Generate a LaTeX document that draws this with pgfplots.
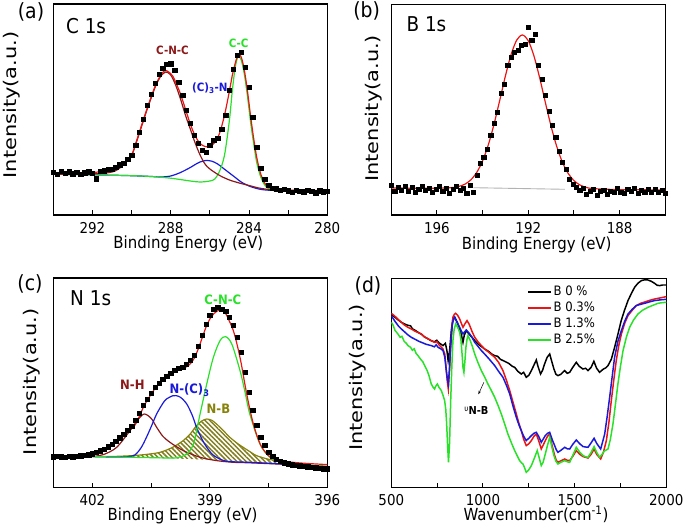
\documentclass[border=0pt]{standalone}
\usepackage{fontspec}
\setmainfont{DejaVu Sans}[FakeStretch=0.9]
\newfontfamily\ylfont{DejaVu Sans}[FakeStretch=1.2]
\usepackage{pgfplots}
\pgfplotsset{compat=1.18}
\usetikzlibrary{patterns.meta,arrows.meta}
\definecolor{cred}{RGB}{235,20,20}
\definecolor{cdred}{RGB}{140,25,25}
\definecolor{cgreen}{RGB}{40,225,40}
\definecolor{cblue}{RGB}{25,25,220}
\definecolor{colive}{RGB}{135,130,10}
\definecolor{chatch}{RGB}{130,125,30}
\newcommand{\tickfont}{\fontsize{15}{18}\selectfont}
\newcommand{\labfont}{\fontsize{16.7}{20}\selectfont}
\newcommand{\ylabfont}{\ylfont\fontsize{17.5}{20}\selectfont}
\pgfplotsset{
  panel/.style={scale only axis, width=274bp, ymin=0, ytick=\empty,
    tick align=inside, xtick pos=left, major tick length=4.5bp, minor tick length=4.5bp,
    tick style={line width=1pt, black},
    axis line style={line width=1.3pt},
    xticklabel style={font=\tickfont, anchor=base, inner sep=0pt, yshift=-18.5bp},
    every axis plot/.append style={line width=1.2pt}},
  dat/.style={only marks, mark=square*, mark size=2.25pt, black, line width=0.4pt},
}
\begin{document}
\begin{tikzpicture}

% ---------------- (a) C 1s ----------------
\begin{axis}[panel, x dir=reverse, at={(53.3bp,313bp)}, anchor=south west,
  height=211bp, ymax=211, xmin=280, xmax=294,
  xtick={292,288,284,280}, xticklabels={292,288,284,280}, minor xtick={290,286,282}]
\addplot[dat] coordinates {(294.0,43) (293.8,41) (293.6,44) (293.4,42) (293.2,43.5) (293.0,41.5) (292.8,43) (292.6,41) (292.4,42.5) (292.2,43.5) (292.0,42) (291.8,36.5) (291.6,44) (291.4,44.5) (291.2,46) (291.0,46) (290.8,48) (290.6,50.5) (290.4,52) (290.2,56) (290.0,60) (289.8,70) (289.6,83) (289.4,96) (289.2,110) (289.0,121) (288.8,132) (288.6,141) (288.4,147) (288.2,151) (288.0,151.5) (287.8,145) (287.6,133) (287.4,120) (287.2,105) (287.0,92) (286.8,80) (286.6,72) (286.4,65) (286.2,63) (286.0,70) (285.8,75) (285.6,77) (285.4,86) (285.2,100) (285.0,125) (284.8,146) (284.6,160) (284.4,163) (284.2,148) (284.0,128) (283.8,98) (283.6,68) (283.4,47) (283.2,36) (283.0,30) (282.8,27) (282.6,26.5) (282.4,25) (282.2,26) (282.0,24.5) (281.8,23) (281.6,25) (281.4,24) (281.2,23.5) (281.0,25) (280.8,24) (280.6,22.5) (280.4,24.5) (280.2,23.5) (280.0,24)};
\addplot[cblue, smooth] coordinates {(294,40.7) (293,40.5) (292,40.2) (291,39.8) (290,39.3) (289,38.5) (288.5,38) (288,39) (287.5,42.5) (287,47.5) (286.75,50.5) (286.5,53) (286.2,54.5) (285.9,53.8) (285.6,51) (285.3,46.5) (285,42) (284.7,37.5) (284.4,33) (284,29) (283.5,26) (283,24.8) (282,24.3) (280,24.3)};
\addplot[cgreen, smooth] coordinates {(294,40.7) (292,40.2) (290,39.3) (289,38.5) (288,36.8) (287,34) (286.5,33) (286,34) (285.75,36) (285.5,44) (285.25,60) (285,95) (284.85,125) (284.7,148) (284.55,159) (284.4,155) (284.25,142) (284.1,122) (283.9,90) (283.75,70) (283.6,52) (283.4,38) (283.2,30) (283,26.5) (282.5,24.8) (282,24.4) (280,24.3)};
\addplot[cdred, smooth] coordinates {(294,40.7) (293,40.8) (292,41) (291,43) (290.5,48.5) (290,60) (289.75,73) (289.5,88) (289.25,103) (289,117) (288.75,130) (288.5,139) (288.25,143) (288,140) (287.75,130) (287.5,116) (287.25,100) (287,86) (286.75,72) (286.5,60) (286.25,51) (286,46) (285.5,39.5) (285,35) (284.5,32) (284,29.5) (283.5,27) (283,25.5) (282.5,24.8) (282,24.5) (281,24.3) (280,24.3)};
\addplot[cred, smooth] coordinates {(294,41.5) (293,42) (292,42.5) (291.5,43.5) (291,45) (290.5,49.5) (290,60) (289.75,74) (289.5,89) (289.25,104) (289,118) (288.75,131) (288.5,140) (288.3,144.5) (288.1,143) (287.9,139) (287.75,133) (287.5,121) (287.25,106) (287,91) (286.75,79) (286.5,71.5) (286.25,68.5) (286,68.5) (285.75,72.5) (285.5,82) (285.25,100) (285,124) (284.85,140) (284.7,152) (284.55,161) (284.4,158) (284.25,146) (284.1,127) (283.9,96) (283.75,75) (283.6,57) (283.4,41) (283.2,32) (283,28) (282.5,25.5) (282,24.8) (281,24.5) (280,24.3)};
\node[anchor=base west, font=\fontsize{20.5}{24}\selectfont] at (axis description cs:0.034,0.861) {C 1s};
\node[cdred, font=\bfseries\fontsize{11.5}{14}\selectfont] at (axis cs:287.91,164.3) {C-N-C};
\node[cgreen, font=\bfseries\fontsize{11.5}{14}\selectfont] at (axis cs:284.53,171.7) {C-C};
\node[cblue, font=\bfseries\fontsize{11.5}{14}\selectfont] at (axis cs:286.0,126.5) {(C)\textsubscript{3}-N};
\end{axis}

% ---------------- (b) B 1s ----------------
\begin{axis}[panel, x dir=reverse, at={(391.3bp,313bp)}, anchor=south west,
  height=210.5bp, ymax=210.5, xmin=186, xmax=198,
  xtick={196,192,188}, xticklabels={196,192,188}, minor xtick={194,190}]
\addplot[dat, mark size=2.1pt] coordinates {(198.00,30) (197.85,23.5) (197.70,28) (197.55,25) (197.40,29) (197.25,24) (197.10,27.5) (196.95,23) (196.80,26) (196.65,29) (196.50,24.5) (196.35,27) (196.20,22.5) (196.05,26) (195.90,28.5) (195.75,24) (195.60,27) (195.45,22) (195.30,25.5) (195.15,29) (195.00,24.5) (194.85,27) (194.70,22) (194.55,30) (194.40,23) (194.25,40) (194.10,52) (193.95,58) (193.80,66) (193.65,80) (193.50,92) (193.35,103) (193.20,122) (193.05,131) (192.90,150) (192.75,158) (192.60,163) (192.45,165) (192.30,170) (192.15,171) (192.00,188) (191.85,175) (191.70,181) (191.55,150) (191.40,136) (191.25,120) (191.10,104) (190.95,90) (190.80,78) (190.65,64) (190.50,53) (190.35,46) (190.20,36) (190.05,31) (189.90,28) (189.75,25) (189.60,27) (189.45,21) (189.30,24) (189.15,26) (189.00,20) (188.85,23.5) (188.70,25) (188.55,21) (188.40,24) (188.25,22.5) (188.10,26.5) (187.95,23) (187.80,21.5) (187.65,26) (187.50,24) (187.35,27) (187.20,22) (187.05,25) (186.90,23) (186.75,26) (186.60,22.5) (186.45,25.5) (186.30,23) (186.15,25) (186.00,22)};
\addplot[black!30, line width=0.9pt] coordinates {(194.4,27.3) (190.4,25.7)};
\addplot[cred, smooth] coordinates {(198,27) (197,26.8) (196.5,26.8) (195.76,26.9) (195.26,27.6) (195.01,28.8) (194.76,31) (194.51,35.3) (194.26,42.5) (194.01,53.7) (193.76,69.5) (193.51,90) (193.26,113.8) (193.01,138.3) (192.76,160) (192.51,174.8) (192.26,180) (192.01,174.6) (191.76,159.6) (191.51,137.9) (191.26,113.2) (191.01,89.4) (190.76,68.9) (190.51,53) (190.26,41.8) (190.01,34.6) (189.76,30.3) (189.51,27.9) (189.26,26.6) (188.76,25.9) (188,25.4) (187,25.2) (186,25)};
\node[anchor=base west, font=\fontsize{20.5}{24}\selectfont] at (axis description cs:0.043,0.871) {B 1s};
\end{axis}

% ---------------- (c) N 1s ----------------
\begin{axis}[panel, x dir=reverse, at={(53.3bp,40.7bp)}, anchor=south west,
  height=209.3bp, ymax=209.3, xmin=396, xmax=403,
  xtick={402,399,396}, xticklabels={402,399,396}, minor xtick={400.5,397.5}]
\addplot[dat] coordinates {(403.0,30.5) (402.9,31) (402.8,30.5) (402.7,30) (402.6,31) (402.5,30.5) (402.4,31) (402.3,31.5) (402.2,32) (402.1,32.5) (402.0,33.5) (401.9,35) (401.8,36.5) (401.7,38) (401.6,40.5) (401.5,43) (401.4,46) (401.3,49.5) (401.2,53) (401.1,57) (401.0,61) (400.9,67) (400.8,74) (400.7,82) (400.6,88) (400.5,94) (400.4,100) (400.3,104) (400.2,108) (400.1,111) (400.0,114) (399.9,117) (399.8,119) (399.7,120) (399.6,123) (399.5,127) (399.4,132) (399.3,141) (399.2,152) (399.1,163) (399.0,172) (398.9,178) (398.8,180) (398.7,178) (398.6,176) (398.5,170) (398.4,162) (398.3,150) (398.2,135) (398.1,115) (398.0,95) (397.9,77) (397.8,62) (397.7,50) (397.6,42) (397.5,35) (397.4,31) (397.3,28) (397.2,26) (397.1,24.5) (397.0,23.5) (396.9,22.5) (396.8,22) (396.7,21.5) (396.6,21) (396.5,20.5) (396.4,20) (396.3,19.5) (396.2,19) (396.1,18.8) (396.0,18.5)};
\addplot[draw=none, pattern={Lines[angle=-45,distance=3.3bp,line width=1.5bp]}, pattern color=chatch] coordinates {(402,30.7) (401.5,30.8) (400.96,31.7) (400.6,33) (400.27,35) (399.95,40) (399.68,46.7) (399.5,53.5) (399.34,61.7) (399.2,66.5) (399.08,68.3) (398.95,67) (398.83,63.3) (398.65,56.5) (398.49,50) (398.3,44) (398.15,40) (397.95,35) (397.81,31.7) (397.5,28) (397.29,26.7) (396.95,23.3) (396.5,22) (396,20.7) (397,23) (398,25) (399,27.5) (400,29) (401,30) (402,30.7)} -- cycle;
\addplot[colive, smooth, line width=1.2pt] coordinates {(402,30.7) (401.5,30.8) (400.96,31.7) (400.6,33) (400.27,35) (399.95,40) (399.68,46.7) (399.5,53.5) (399.34,61.7) (399.2,66.5) (399.08,68.3) (398.95,67) (398.83,63.3) (398.65,56.5) (398.49,50) (398.3,44) (398.15,40) (397.95,35) (397.81,31.7) (397.5,28) (397.29,26.7) (396.95,23.3) (396.5,22) (396,20.7)};
\addplot[cdred, smooth] coordinates {(402,30.7) (401.7,33) (401.38,40) (401.04,56.7) (400.85,67) (400.68,73.3) (400.5,69) (400.36,60) (400.2,51) (400.02,45) (399.68,36.7) (399.25,30) (398.83,26.7) (398.4,25) (398,24.5) (397,22.8) (396,20.7)};
\addplot[cblue, smooth] coordinates {(402,30.7) (401.5,30.3) (401.1,30.5) (400.91,32.5) (400.75,40) (400.62,50) (400.5,60.5) (400.36,73.3) (400.2,84) (400.11,88.3) (399.95,91.5) (399.87,91.7) (399.75,90) (399.59,83.3) (399.45,72) (399.34,60) (399.2,48) (399.08,40) (398.95,33.5) (398.83,30) (398.57,26) (398,25) (397,23) (396,20.7)};
\addplot[cgreen, smooth] coordinates {(402,30.7) (401,30) (400,29.3) (399.8,30) (399.6,33) (399.42,43.3) (399.25,73.3) (399.08,103.3) (398.91,130) (398.74,146.7) (398.6,150.7) (398.44,143.3) (398.23,116.7) (398.1,95) (397.98,73.3) (397.72,43.3) (397.46,30) (397.12,25) (396.5,22.5) (396,20.7)};
\addplot[cred, smooth] coordinates {(402.0,33.3) (401.9,34.5) (401.8,36) (401.7,37.5) (401.6,39.5) (401.5,42) (401.4,44.5) (401.3,48) (401.2,51.5) (401.1,55) (401.0,58.5) (400.9,63) (400.8,71) (400.7,80) (400.6,87) (400.5,93) (400.4,99) (400.3,104) (400.2,108.5) (400.1,112) (400.0,115) (399.9,116.5) (399.8,117.5) (399.7,119) (399.6,120.5) (399.5,123.5) (399.4,129) (399.3,138) (399.2,149) (399.1,160) (399.0,168.3) (398.9,173.5) (398.8,176.5) (398.7,177.3) (398.6,174) (398.5,166) (398.4,156.7) (398.3,142) (398.2,124) (398.1,102) (398.0,82) (397.9,65) (397.8,52) (397.7,42) (397.6,36) (397.5,31.5) (397.4,29) (397.3,27.5) (397.2,26.6) (397.0,25.5) (396.8,24.7) (396.5,23.8) (396.0,22.7)};
\node[anchor=base west, font=\fontsize{20.5}{24}\selectfont] at (axis description cs:0.049,0.868) {N 1s};
\node[cgreen, font=\bfseries\fontsize{13}{15}\selectfont] at (axis cs:398.67,187.3) {C-N-C};
\node[cdred, font=\bfseries\fontsize{13}{15}\selectfont] at (axis cs:400.98,103) {N-H};
\node[cblue, font=\bfseries\fontsize{13}{15}\selectfont] at (axis cs:399.52,97) {N-(C)\textsubscript{3}};
\node[colive, font=\bfseries\fontsize{13}{15}\selectfont] at (axis cs:398.78,78.3) {N-B};
\end{axis}

% ---------------- (d) FTIR ----------------
\begin{axis}[panel, at={(391.3bp,40.7bp)}, anchor=south west,
  width=275bp, height=208.6bp, ymax=208.6, xmin=500, xmax=2000,
  xtick={500,1000,1500,2000}, xticklabels={500,1000,1500,2000}, minor xtick={750,1250,1750},
  every axis plot/.append style={line width=1.5pt},
  legend style={draw=none, fill=none, inner sep=0pt, at={(axis description cs:0.495,0.975)}, anchor=north west,
    font=\fontsize{13}{15}\selectfont, row sep=0pt,
    nodes={inner sep=1.5pt, text height=10bp, text depth=3bp}},
  legend cell align=left,
  legend image code/.code={\draw[#1, line width=1.5pt] (0bp,0bp) -- (23bp,0bp);}]
\addplot[black] coordinates {(500,173.3) (520,170) (540,167) (555,165) (570,163.5) (590,162) (605,161.5) (615,158.5) (630,157) (650,154.5) (665,153) (680,150.5) (700,148.5) (718,146.5) (735,145.5) (748,147) (760,144.5) (782,141.7) (795,144) (803,137) (810,126.7) (818,136.7) (828,158) (836,168.3) (846,170) (860,165) (873,158.3) (883,152) (891,145) (898,152) (909,156.7) (925,153) (940,150) (955,146.7) (975,143) (990,141) (1009,138.3) (1030,136) (1050,133) (1064,131.7) (1080,131) (1095,128) (1118,126) (1140,124) (1160,121) (1173,120) (1190,116) (1209,113.3) (1222,115) (1236,110) (1250,112) (1264,116.7) (1280,123) (1291,127.3) (1300,121) (1314,113.3) (1325,117) (1336,123.3) (1350,130) (1364,133.3) (1375,126) (1387,118.3) (1398,113) (1409,111.7) (1425,113) (1445,116.7) (1460,114) (1473,115) (1490,120) (1509,125) (1525,121) (1545,118.3) (1560,119) (1573,116.7) (1590,120) (1605,126) (1620,119) (1636,115) (1655,118) (1670,119.5) (1682,121.7) (1700,128) (1718,140) (1736,153) (1754,166.7) (1772,177) (1791,186.7) (1810,194) (1827,200) (1845,204) (1864,206.7) (1882,207.5) (1900,207.3) (1918,206) (1936,204) (1950,202) (1964,201.7) (1980,202.3) (2000,202.3)};
\addlegendentry{B 0 \%}
\addplot[cred] coordinates {(500,174) (520,171) (540,167.5) (555,165) (570,162.5) (590,160) (609,158.3) (630,156) (650,154.5) (664,153.3) (680,150.5) (700,148.5) (718,146.7) (735,145) (750,145.5) (760,142.5) (782,138.3) (792,133) (800,116.7) (806,105) (811,98.3) (817,115) (822,133.3) (829,155) (836,170) (844,173) (851,174) (862,172) (873,168.3) (883,163.5) (891,160) (900,163) (913,166.7) (925,163) (940,156) (955,150) (975,145) (990,142) (1009,138.3) (1035,134.5) (1064,130) (1085,125) (1109,116.7) (1128,107) (1146,96.7) (1164,85) (1182,73.3) (1196,64) (1209,56.7) (1222,48) (1236,41.7) (1250,43.5) (1264,46.7) (1278,51) (1291,53.3) (1305,46) (1318,38.3) (1328,42) (1340,46.7) (1352,51) (1364,53.3) (1377,42) (1391,31.7) (1400,27) (1409,25) (1425,26.5) (1446,28.3) (1460,27) (1473,26.7) (1490,31) (1509,36.7) (1528,33) (1546,30.7) (1560,30) (1573,29.3) (1590,33) (1606,38.3) (1620,33) (1642,28.3) (1657,35) (1673,46.7) (1687,65) (1700,86.7) (1714,108) (1727,126.7) (1741,142) (1755,153.3) (1773,164) (1791,171.7) (1814,177) (1836,181.7) (1860,184) (1882,185.3) (1910,187) (1936,188.3) (1970,189.5) (2000,190.7)};
\addlegendentry{B 0.3\%}
\addplot[cblue] coordinates {(500,171.7) (520,166) (540,161) (555,158.3) (575,155) (590,152.5) (609,150) (630,148) (650,146) (664,145) (690,143) (718,141.7) (735,140.5) (745,142.5) (755,140) (770,138.5) (782,136.7) (792,130) (800,116.7) (806,108) (811,103.3) (817,118) (822,136.7) (828,152) (833,163.3) (840,168) (846,170) (858,165) (873,160) (883,156) (891,153.3) (900,155.5) (909,157.3) (925,154) (940,150) (955,145) (975,140.5) (990,137) (1009,133.3) (1035,128) (1064,121.7) (1085,116) (1109,110) (1128,102) (1146,93.3) (1164,81) (1182,70) (1196,62.5) (1209,56.7) (1222,51) (1236,46.7) (1250,49) (1264,51.7) (1278,54) (1291,55) (1305,50.5) (1318,45) (1328,48) (1340,51.7) (1352,54) (1364,55) (1377,48) (1391,41.7) (1400,37.5) (1409,35) (1425,37) (1446,40) (1460,38.5) (1473,38.3) (1490,43) (1509,47.3) (1528,43.5) (1546,40.7) (1560,40.3) (1573,40) (1590,44.5) (1606,49) (1620,44) (1642,38.3) (1652,45) (1664,53.3) (1677,70) (1691,90) (1705,111) (1718,130) (1736,146) (1755,156.7) (1773,166) (1791,173.3) (1814,178) (1836,181.7) (1860,183) (1882,184) (1910,185.5) (1936,186.7) (1970,187.5) (2000,188)};
\addlegendentry{B 1.3\%}
\addplot[cgreen] coordinates {(500,165) (510,162) (520,157) (536,153.3) (548,150) (558,151) (570,146) (582,144) (591,141.7) (605,140) (615,137) (625,138.5) (635,134) (645.5,131.7) (660,128) (672,125.5) (682,121.7) (695,117) (705,112) (718,103.3) (728,100) (736,98.3) (742,101) (751,103.3) (760,100) (773,96.7) (782,92) (791,86.7) (797,78) (802,63.3) (807,42) (812,25) (818,45) (824,86.7) (830,120) (836,146.7) (843,158) (851,163.3) (862,160) (873,155) (880,147) (886,133.3) (891,120) (896,115) (901,125) (907,140) (913,148) (918,151.7) (930,147) (942,141) (955,133.3) (972,125) (991,116.7) (1010,110) (1027,103.3) (1045,97) (1064,90) (1082,82) (1100,73.3) (1118,63.5) (1136,53.3) (1155,44.5) (1173,36.7) (1188,31) (1200,26.7) (1210,24.5) (1218,23.3) (1226,20) (1236,15) (1248,17) (1264,21.7) (1280,29) (1296,36.7) (1306,30) (1318,21.7) (1328,25) (1340,33.3) (1352,42) (1364,50) (1375,41) (1387,31.7) (1398,26) (1409,23.3) (1425,25) (1446,26.7) (1460,25.5) (1473,25) (1490,32) (1509,40) (1528,35) (1546,31.7) (1560,30.5) (1573,30) (1590,35) (1606,40.7) (1620,35) (1636,30) (1650,33) (1660,36) (1682,38.3) (1695,48) (1709,63.3) (1722,82) (1736,103.3) (1750,121) (1764,136.7) (1782,150) (1800,160) (1822,167.5) (1845.5,173.3) (1870,177) (1900,180) (1927,182) (1954.5,184) (1980,184.7) (2000,185)};
\addlegendentry{B 2.5\%}
\draw[-{Stealth[length=3.5bp,width=2.5bp]}, line width=0.5pt] (axis cs:1005,105) -- (axis cs:975,93);
\node[font=\bfseries\fontsize{11}{13}\selectfont] at (axis cs:964,77) {{\mdseries\fontsize{8}{8}\selectfont\raisebox{2.5bp}{υ}}N-B};
\end{axis}

% panel letters
\node[font=\fontsize{21}{25}\selectfont] at (31bp,516.5bp) {(a)};
\node[font=\fontsize{21}{25}\selectfont] at (366.7bp,517.2bp) {(b)};
\node[font=\fontsize{21}{25}\selectfont] at (30bp,243.8bp) {(c)};
\node[font=\fontsize{21}{25}\selectfont] at (368bp,242.2bp) {(d)};
% y labels
\node[rotate=90, font=\ylabfont] at (11.7bp,423bp) {Intensity(a.u.)};
\node[rotate=90, font=\ylabfont] at (373.3bp,419.7bp) {Intensity(a.u.)};
\node[rotate=90, font=\ylabfont] at (31.7bp,146.3bp) {Intensity(a.u.)};
\node[rotate=90, font=\ylabfont] at (357.5bp,150.5bp) {Intensity(a.u.)};
% x labels
\node[anchor=base, inner sep=0pt, font=\labfont] at (188.3bp,279bp) {Binding Energy (eV)};
\node[anchor=base, inner sep=0pt, font=\labfont] at (536.7bp,278.5bp) {Binding Energy (eV)};
\node[anchor=base, inner sep=0pt, font=\labfont] at (182.5bp,7.5bp) {Binding Energy (eV)};
\node[anchor=base, inner sep=0pt, font=\labfont] at (536bp,7.5bp) {Wavenumber(cm\textsuperscript{-1})};
\pgfresetboundingbox
\path[use as bounding box] (0,0) rectangle (685bp,528bp);
\end{tikzpicture}
\end{document}
